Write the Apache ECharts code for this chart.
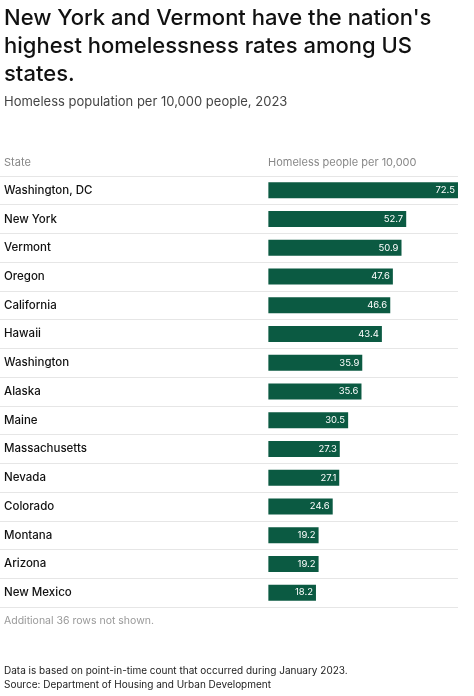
<!DOCTYPE html>
<html><head><meta charset="utf-8">
<script src="https://cdn.jsdelivr.net/npm/echarts@6/dist/echarts.min.js"></script>
<style>html,body{margin:0;padding:0;background:#fff}#c{width:474px;height:696px}</style>
</head><body><div id="c"></div>
<script>
const states = ['Washington, DC','New York','Vermont','Oregon','California','Hawaii','Washington','Alaska','Maine','Massachusetts','Nevada','Colorado','Montana','Arizona','New Mexico'];
const rates = [72.5,52.7,50.9,47.6,46.6,43.4,35.9,35.6,30.5,27.3,27.1,24.6,19.2,19.2,18.2];

const chart = echarts.init(document.getElementById('c'));
const font = 'Inter, "Noto Sans", sans-serif';
const t = (text, left, top, style) => ({text, left, top, padding: 0,
  textStyle: Object.assign({fontWeight: 'normal', fontFamily: font}, style)});
chart.setOption({
  animation: false,
  textStyle: {fontFamily: font},
  title: [
    t("New York and Vermont have the nation's\nhighest homelessness rates among US\nstates.", 4, 4,
      {fontSize: 22, fontWeight: 500, color: '#111', lineHeight: 28}),
    t('Homeless population per 10,000 people, 2023', 4, 96, {fontSize: 13, color: '#444'}),
    t('State', 4, 157, {fontSize: 11, color: '#888'}),
    t('Homeless people per 10,000', 268, 157, {fontSize: 11, color: '#888'}),
    t('Additional 36 rows not shown.', 4, 615, {fontSize: 10.5, color: '#999'}),
    t('Data is based on point-in-time count that occurred during January 2023.\nSource: Department of Housing and Urban Development', 4, 664,
      {fontSize: 10, color: '#222', lineHeight: 14})
  ],
  grid: {left: 0, right: 16, top: 176, bottom: 89},
  xAxis: {type: 'value', min: -102.6, max: 72.5, show: false},
  yAxis: {type: 'category', data: states, inverse: true,
    axisLine: {show: false}, axisTick: {show: false},
    splitLine: {show: true, lineStyle: {color: '#e6e6e6'}},
    axisLabel: {inside: true, margin: 4, align: 'left', color: '#111', fontSize: 11.5, fontWeight: 500, fontFamily: font}},
  series: [{type: 'bar', data: rates, barWidth: 16,
    itemStyle: {color: '#0b5a42'},
    label: {show: true, position: 'insideRight', color: '#fff', fontSize: 9.5, offset: [2, 0], fontFamily: font}}]
});
</script></body></html>
